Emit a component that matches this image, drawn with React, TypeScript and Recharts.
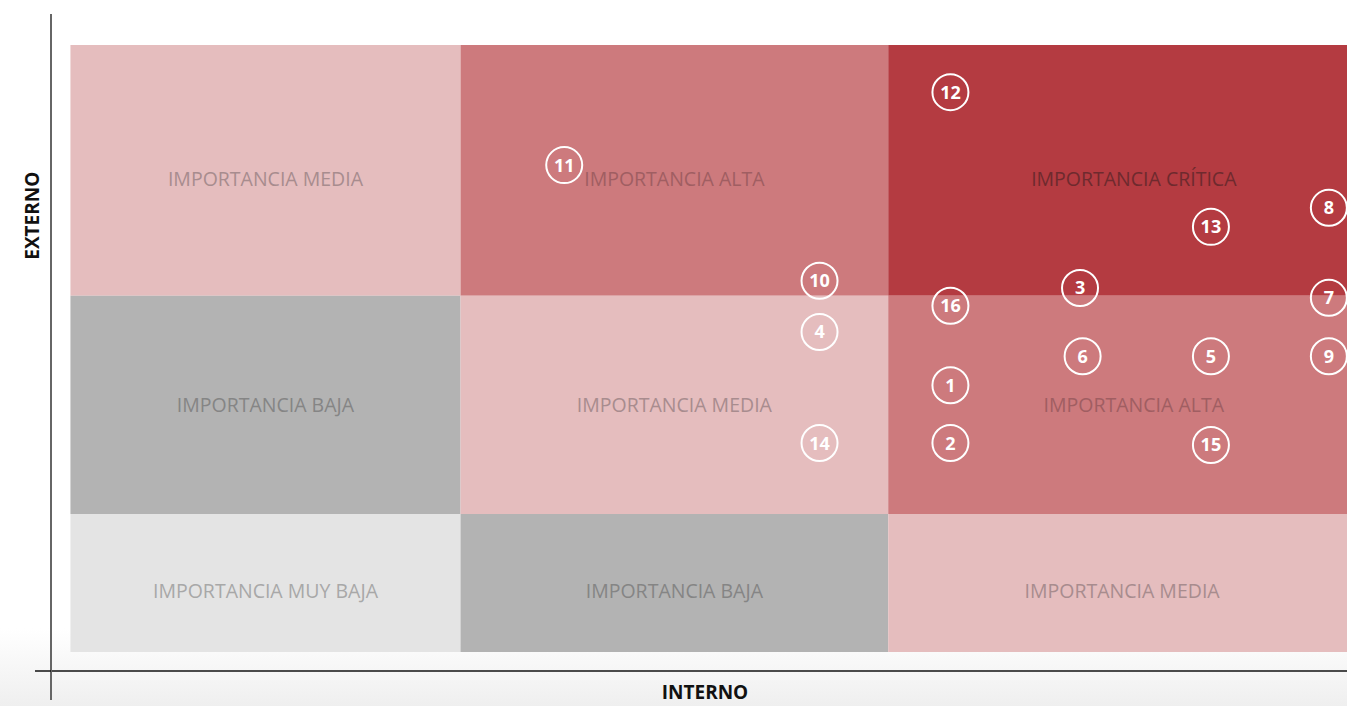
import React from "react";
import { ScatterChart, Scatter, XAxis, YAxis, ReferenceArea } from "recharts";

// importance zones of the matrix (interno on x, externo on y, 0-10)
const zoneLabels = [
  "IMPORTANCIA MEDIA",
  "IMPORTANCIA ALTA",
  "IMPORTANCIA CRÍTICA",
  "IMPORTANCIA BAJA",
  "IMPORTANCIA MEDIA",
  "IMPORTANCIA ALTA",
  "IMPORTANCIA MUY BAJA",
  "IMPORTANCIA BAJA",
  "IMPORTANCIA MEDIA",
];
const zoneX1 = [0.15, 3.16, 6.46, 0.15, 3.16, 6.46, 0.15, 3.16, 6.46];
const zoneX2 = [3.16, 6.46, 10.25, 3.16, 6.46, 10.25, 3.16, 6.46, 10.07];
const zoneY1 = [5.71, 5.71, 5.71, 2.39, 2.39, 2.39, 0.29, 0.29, 0.29];
const zoneY2 = [9.53, 9.53, 9.53, 5.71, 5.71, 5.71, 2.39, 2.39, 2.39];
const zoneFill = ["#e5bdbe", "#cd7a7d", "#b43b41", "#b3b3b3", "#e5bdbe", "#cd7a7d", "#e4e4e4", "#b3b3b3", "#e5bdbe"];
const zoneText = ["#a88c8e", "#a05e62", "#6e2a2e", "#858585", "#a88c8e", "#a05e62", "#a8a8a8", "#858585", "#a88c8e"];

// material topics
const topicIds = [1, 2, 3, 4, 5, 6, 7, 8, 9, 10, 11, 12, 13, 14, 15, 16];
const interno = [6.94, 6.94, 7.94, 5.93, 8.95, 7.96, 9.86, 9.86, 9.86, 5.93, 3.96, 6.94, 8.95, 5.93, 8.95, 6.94];
const externo = [4.35, 3.47, 5.83, 5.16, 4.79, 4.79, 5.68, 7.05, 4.79, 5.94, 7.7, 8.81, 6.76, 3.47, 3.44, 5.56];

const topics = topicIds.map((id, i) => ({ id, x: interno[i], y: externo[i] }));

const FONT = "'Open Sans', sans-serif";

const Bubble = (props: any) => {
  const { cx, cy, payload } = props;
  return (
    <g>
      <circle cx={cx} cy={cy} r={18} fill="none" stroke="#ffffff" strokeWidth={2} />
      <text
        x={cx}
        y={cy}
        dy={6.5}
        textAnchor="middle"
        fill="#ffffff"
        fontFamily={FONT}
        fontWeight={700}
        fontSize={18}
      >
        {payload.id}
      </text>
    </g>
  );
};

// zone caption, centred in its box; outer rows sit a little lower
const zoneLabel = (text: string, color: string, shift: number) => (p: any) => {
  const vb = p.viewBox;
  return (
    <text
      x={vb.x + vb.width / 2}
      y={vb.y + vb.height / 2 + shift}
      textAnchor="middle"
      dominantBaseline="central"
      fill={color}
      fontFamily={FONT}
      fontSize={19.5}
    >
      {text}
    </text>
  );
};

export default function App() {
  return (
    <div
      style={{
        position: "absolute",
        left: 0,
        top: 0,
        width: 1347,
        height: 706,
        background: "linear-gradient(to bottom, #ffffff 0%, #ffffff 89%, #efefef 100%)",
      }}
    >
      <ScatterChart width={1347} height={706} margin={{ top: 14, right: 0, bottom: 0, left: 0 }}>
        <XAxis
          type="number"
          dataKey="x"
          domain={[0, 10]}
          ticks={[0]}
          tickSize={29}
          tickFormatter={() => ""}
          axisLine={{ stroke: "#111", strokeWidth: 1.5 }}
          tickLine={{ stroke: "#666", strokeWidth: 2 }}
          height={35}
          label={(p: any) => {
            const vb = p.viewBox;
            return (
              <text
                x={vb.x + vb.width / 2 + 6}
                y={vb.y + vb.height - 7}
                textAnchor="middle"
                fill="#111"
                fontFamily={FONT}
                fontWeight={700}
                fontSize={19}
              >
                INTERNO
              </text>
            );
          }}
        />
        <YAxis
          type="number"
          dataKey="y"
          domain={[0, 10]}
          ticks={[0]}
          tickSize={16}
          tickFormatter={() => ""}
          width={51}
          axisLine={{ stroke: "#666", strokeWidth: 2 }}
          tickLine={{ stroke: "#111", strokeWidth: 1.5 }}
          label={(p: any) => {
            const vb = p.viewBox;
            const x = vb.x + 32;
            const y = vb.y + vb.height * 0.307;
            return (
              <text
                x={x}
                y={y}
                transform={`rotate(-90 ${x} ${y})`}
                textAnchor="middle"
                dominantBaseline="central"
                fill="#111"
                fontFamily={FONT}
                fontWeight={700}
                fontSize={19}
              >
                EXTERNO
              </text>
            );
          }}
        />
        {zoneLabels.map((label, i) => (
          <ReferenceArea
            key={i}
            x1={zoneX1[i]}
            x2={zoneX2[i]}
            y1={zoneY1[i]}
            y2={zoneY2[i]}
            fill={zoneFill[i]}
            fillOpacity={1}
            stroke="none"
            ifOverflow="hidden"
            label={zoneLabel(label, zoneText[i], zoneY1[i] > 5 || zoneY2[i] < 3 ? 8 : 0)}
          />
        ))}
        <Scatter data={topics} shape={Bubble} isAnimationActive={false} />
      </ScatterChart>
    </div>
  );
}
